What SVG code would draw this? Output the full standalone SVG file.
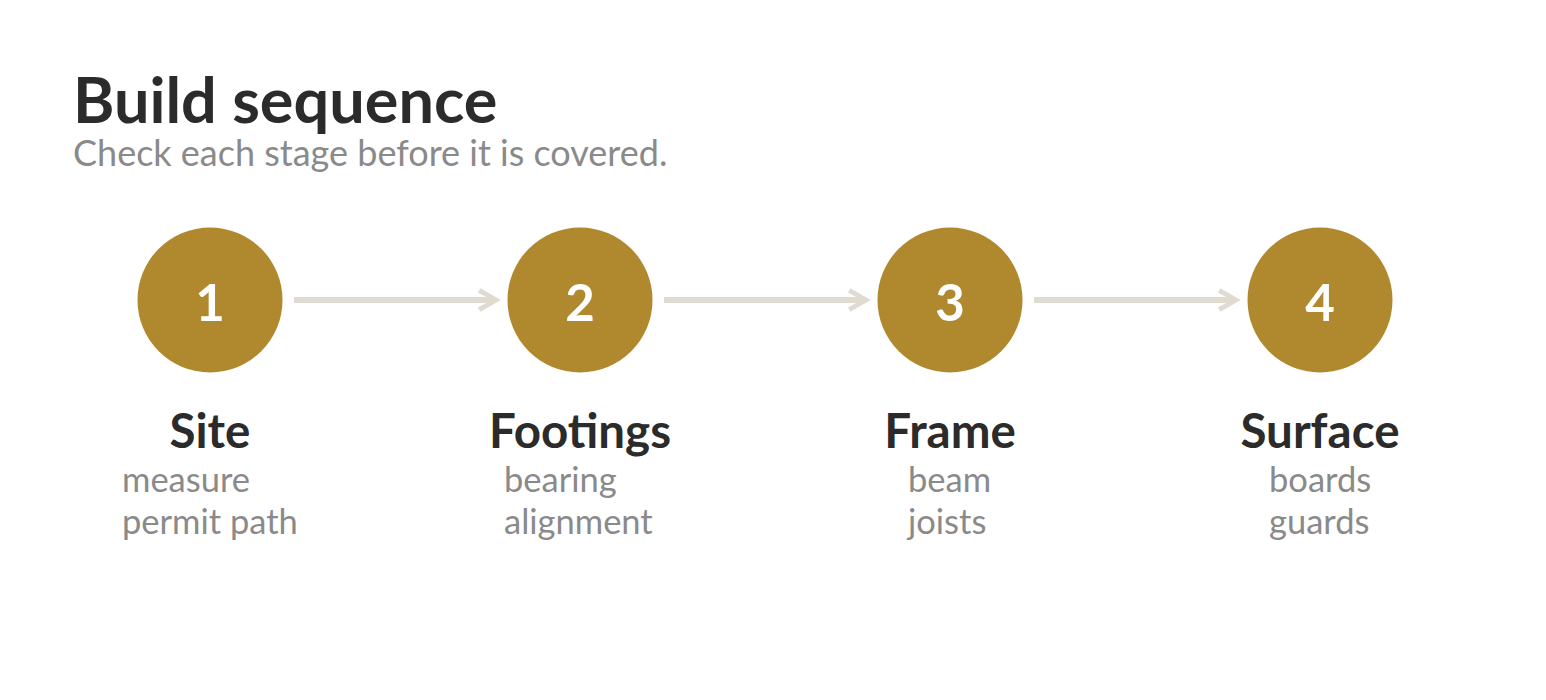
<svg xmlns="http://www.w3.org/2000/svg" width="1546" height="700" viewBox="0 0 1546 700">
<defs>
<style>
.title{font-family:Lato,"Noto Sans",sans-serif;font-weight:700;font-size:63px;fill:#2b2b2b}
.subtitle{font-family:Lato,"Noto Sans",sans-serif;font-size:36px;fill:#8a8a8a}
.num{font-family:Lato,"Noto Sans",sans-serif;font-weight:700;font-size:51px;fill:#ffffff;text-anchor:middle}
.label{font-family:Lato,"Noto Sans",sans-serif;font-weight:700;font-size:47.5px;fill:#2b2b2b;text-anchor:middle}
.sub{font-family:Lato,"Noto Sans",sans-serif;font-size:34.5px;fill:#8a8a8a}
.disc{fill:#b0882d}
.conn{stroke:#e0dbd1;stroke-width:6;fill:none}
</style>
<marker id="arr" viewBox="0 0 10 10" refX="8" refY="5" markerWidth="4" markerHeight="4" markerUnits="strokeWidth" orient="auto">
<path d="M1,1 L8,5 L1,9" fill="none" stroke="#e0dbd1" stroke-width="2"/>
</marker>
</defs>
<rect width="1546" height="700" fill="#ffffff"/>
<text class="title" x="73" y="123">Build sequence</text>
<text class="subtitle" x="73" y="166">Check each stage before it is covered.</text>
<g id="connectors">
<path class="conn" d="M294,300 L496,300" marker-end="url(#arr)"/>
<path class="conn" d="M664,300 L866,300" marker-end="url(#arr)"/>
<path class="conn" d="M1034,300 L1236,300" marker-end="url(#arr)"/>
</g>
<g id="stage1">
<circle class="disc" cx="210" cy="300" r="72.5"/>
<text class="num" x="210" y="321">1</text>
<text class="label" x="210" y="448">Site</text>
<text class="sub" x="122" y="492">measure</text>
<text class="sub" x="122" y="534">permit path</text>
</g>
<g id="stage2">
<circle class="disc" cx="580" cy="300" r="72.5"/>
<text class="num" x="580" y="321">2</text>
<text class="label" x="580" y="448">Footings</text>
<text class="sub" x="504" y="492">bearing</text>
<text class="sub" x="504" y="534">alignment</text>
</g>
<g id="stage3">
<circle class="disc" cx="950" cy="300" r="72.5"/>
<text class="num" x="950" y="321">3</text>
<text class="label" x="950" y="448">Frame</text>
<text class="sub" x="908" y="492">beam</text>
<text class="sub" x="908" y="534">joists</text>
</g>
<g id="stage4">
<circle class="disc" cx="1320" cy="300" r="72.5"/>
<text class="num" x="1320" y="321">4</text>
<text class="label" x="1320" y="448">Surface</text>
<text class="sub" x="1269" y="492">boards</text>
<text class="sub" x="1269" y="534">guards</text>
</g>
</svg>
